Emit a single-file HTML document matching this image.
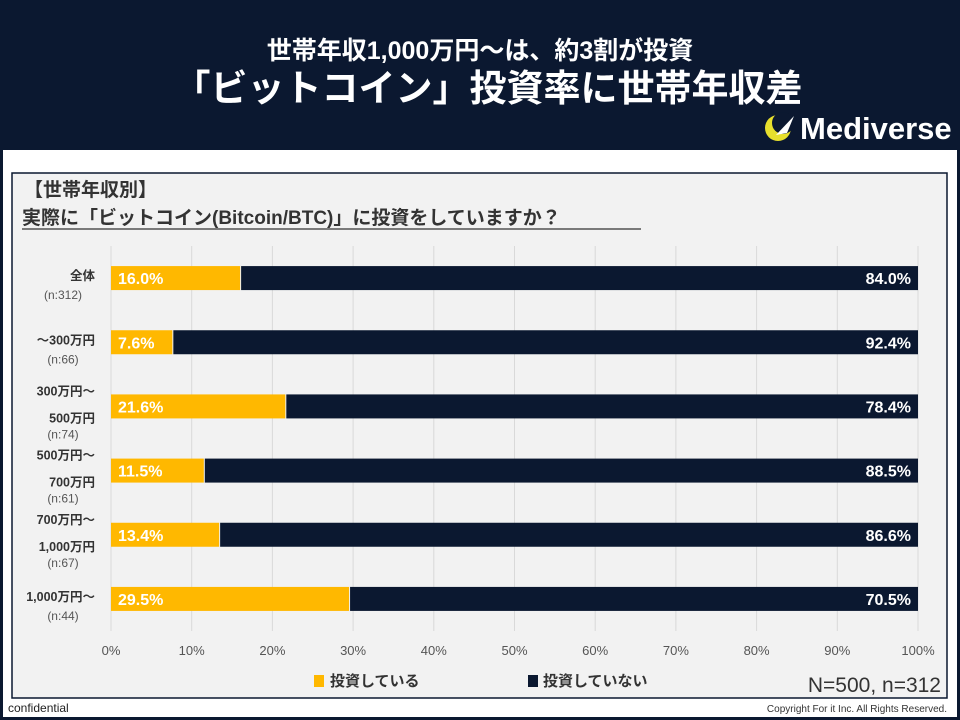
<!DOCTYPE html>
<html><head><meta charset="utf-8">
<style>
html,body{margin:0;padding:0;}
body{width:960px;height:720px;background:#0b1830;position:relative;overflow:hidden;font-family:"Liberation Sans","Noto Sans CJK JP",sans-serif;}
#white{position:absolute;left:3px;top:150px;width:954px;height:567px;background:#fff;}
svg{position:absolute;left:0;top:0;}
</style></head>
<body>
<div id="white"></div>
<svg width="960" height="720" font-family="Liberation Sans, Noto Sans CJK JP, sans-serif">
  <text x="480" y="59" text-anchor="middle" fill="#fff" font-size="25" font-weight="bold">世帯年収1,000万円～は、約3割が投資</text>
  <text x="488" y="101" text-anchor="middle" fill="#fff" font-size="37" font-weight="bold">「ビットコイン」投資率に世帯年収差</text>
  <g>
    <circle cx="778" cy="128" r="13" fill="#e7df2d"/>
    <circle cx="783" cy="123" r="11" fill="#0b1830"/>
    <path d="M776 135 L794 116 L787 133 Z" fill="#fff"/>
    <text x="800" y="139" fill="#fff" font-size="31" font-weight="bold">Mediverse</text>
  </g>
  <rect x="12" y="173" width="935" height="525" fill="#f2f2f2" stroke="#0b1830" stroke-width="1.5"/>
  <text x="24" y="196" font-size="19" font-weight="bold" fill="#333">【世帯年収別】</text>
  <text x="22" y="224" font-size="19" font-weight="bold" fill="#333">実際に「ビットコイン(Bitcoin/BTC)」に投資をしていますか？</text>
  <line x1="22" y1="229" x2="641" y2="229" stroke="#333" stroke-width="1.2"/>
  <g id="plot"></g>
  <g>
    <rect x="314" y="675" width="10" height="12" fill="#ffb800"/>
    <text x="330" y="686" font-size="15" font-weight="bold" fill="#333">投資している</text>
    <rect x="528" y="675" width="10" height="12" fill="#0b1830"/>
    <text x="543" y="686" font-size="15" font-weight="bold" fill="#333">投資していない</text>
  </g>
  <text x="941" y="692" text-anchor="end" font-size="21" fill="#333">N=500, n=312</text>
  <text x="8" y="712" font-size="12" fill="#222">confidential</text>
  <text x="947" y="712" text-anchor="end" font-size="10" fill="#333">Copyright For it Inc. All Rights Reserved.</text>
</svg>
<script>
const categoryLines = [["全体"],["～300万円"],["300万円～","500万円"],["500万円～","700万円"],["700万円～","1,000万円"],["1,000万円～"]];
const sampleSizes = ["(n:312)","(n:66)","(n:74)","(n:61)","(n:67)","(n:44)"];
const investedValues = [16.0, 7.6, 21.6, 11.5, 13.4, 29.5];
const notInvestedValues = [84.0, 92.4, 78.4, 88.5, 86.6, 70.5];
const tickValues = [0,10,20,30,40,50,60,70,80,90,100];
const tickLabels = ["0%","10%","20%","30%","40%","50%","60%","70%","80%","90%","100%"];

const NS = "http://www.w3.org/2000/svg";
const plot = document.getElementById("plot");
const x0 = 111, x1 = 918, yTop = 246, yBot = 631;
const xScale = v => x0 + (x1 - x0) * v / 100;
const band = (yBot - yTop) / categoryLines.length;
const yCenter = i => yTop + band * (i + 0.5);
function mk(tag, attrs, parent) {
  const e = document.createElementNS(NS, tag);
  for (const k in attrs) e.setAttribute(k, attrs[k]);
  (parent || plot).appendChild(e);
  return e;
}
tickValues.forEach((t, i) => {
  const g = mk("line", {x1: xScale(t), x2: xScale(t), y1: yTop, y2: yBot, stroke: "#d9d9d9", "stroke-width": 1});
  
  
  const l = mk("text", {x: xScale(t), y: 655, "text-anchor": "middle", "font-size": 13, fill: "#555"});
  l.textContent = tickLabels[i];
  
  
});
categoryLines.forEach((lines, i) => {
  const yc = yCenter(i);
  const h = 24;
  const b1 = mk("rect", {x: xScale(0), y: yc - h/2, width: xScale(investedValues[i]) - xScale(0), height: h, fill: "#ffb800"});
  
  
  const b2 = mk("rect", {x: xScale(investedValues[i]) + 1, y: yc - h/2, width: xScale(investedValues[i] + notInvestedValues[i]) - xScale(investedValues[i]) - 1, height: h, fill: "#0b1830"});
  
  
  const v1 = mk("text", {x: xScale(0) + 7, y: yc + 6, "font-size": 16, "font-weight": "bold", fill: "#fff"});
  v1.textContent = investedValues[i].toFixed(1) + "%";
  
  
  const v2 = mk("text", {x: xScale(investedValues[i] + notInvestedValues[i]) - 7, y: yc + 6, "text-anchor": "end", "font-size": 16, "font-weight": "bold", fill: "#fff"});
  v2.textContent = notInvestedValues[i].toFixed(1) + "%";
  
  
  let ys;
  if (lines.length === 1) ys = [yc + 2, yc + 21];
  else ys = [yc - 11, yc + 16, yc + 32];
  lines.forEach((ln, k) => {
    const t = mk("text", {x: 95, y: ys[k], "text-anchor": "end", "font-size": 12.5, "font-weight": "bold", fill: "#333"});
    t.textContent = ln;
    
    
  });
  const n = mk("text", {x: 63, y: ys[lines.length], "text-anchor": "middle", "font-size": 12, fill: "#555"});
  n.textContent = sampleSizes[i];
  
  
});
</script>
</body></html>
